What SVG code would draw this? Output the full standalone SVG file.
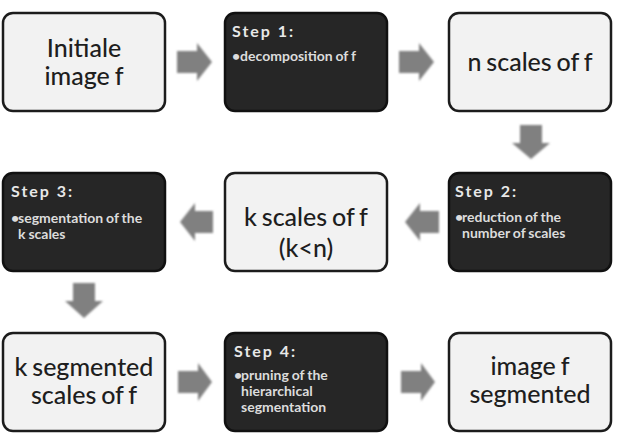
<svg xmlns="http://www.w3.org/2000/svg" width="617" height="442" viewBox="0 0 617 442">
<defs>
<style>
.light{fill:#f2f2f2;stroke:#1c1c1c;stroke-width:2.5}
.dark{fill:#262626;stroke:#111;stroke-width:2.5}
.big{font-family:Lato,"Liberation Sans",sans-serif;font-size:25px;font-weight:500;fill:#1e1e1e;text-anchor:middle;word-spacing:-1.5px}
.title{font-family:Lato,"Liberation Sans",sans-serif;font-size:16px;font-weight:bold;fill:#e8e8e8;letter-spacing:2px}
.item{font-family:Lato,"Liberation Sans",sans-serif;font-size:14px;font-weight:bold;fill:#dcdcdc;word-spacing:-0.5px}
.arrow{fill:#808080}
</style>
<filter id="soft" x="-20%" y="-20%" width="140%" height="140%"><feGaussianBlur stdDeviation="0.8"/></filter>
</defs>
<rect width="617" height="442" fill="#ffffff"/>
<g id="connectors" filter="url(#soft)">
<path class="arrow" d="M177,51 H197 V43 L212,62 L197,81 V73 H177 Z"/>
<path class="arrow" d="M399,51 H419 V43 L434,62 L419,81 V73 H399 Z"/>
<path class="arrow" d="M520,125 V143 H512 L531,159 L550,143 H542 V125 Z"/>
<path class="arrow" d="M439,211 H420 V203 L405,222 L420,241 V233 H439 Z"/>
<path class="arrow" d="M213,211 H195 V203 L180,222 L195,241 V233 H213 Z"/>
<path class="arrow" d="M73,283 V301 H65 L84,318 L103,301 H95 V283 Z"/>
<path class="arrow" d="M178,371 H198 V363 L212,382 L198,401 V393 H178 Z"/>
<path class="arrow" d="M401,371 H421 V363 L435,382 L421,401 V393 H401 Z"/>
</g>
<g id="initiale">
<rect class="light" x="3" y="13" width="162" height="98" rx="10"/>
<text class="big" x="84" y="57">Initiale</text>
<text class="big" x="84" y="85">image f</text>
</g>
<g id="step1">
<rect class="dark" x="225" y="13" width="162" height="98" rx="10"/>
<text class="title" x="232" y="37">Step 1:</text>
<text class="item" x="232" y="61">•decomposition of f</text>
</g>
<g id="nscales">
<rect class="light" x="449" y="13" width="162" height="98" rx="10"/>
<text class="big" x="530" y="71">n scales of f</text>
</g>
<g id="step2">
<rect class="dark" x="449" y="173" width="162" height="98" rx="10"/>
<text class="title" x="455" y="197">Step 2:</text>
<text class="item" x="455" y="222">•</text>
<text class="item" x="462" y="222">reduction of the</text>
<text class="item" x="462" y="238">number of scales</text>
</g>
<g id="kscales">
<rect class="light" x="225" y="173" width="162" height="98" rx="10"/>
<text class="big" x="306" y="226">k scales of f</text>
<text class="big" x="306" y="257">(k&lt;n)</text>
</g>
<g id="step3">
<rect class="dark" x="3" y="173" width="162" height="98" rx="10"/>
<text class="title" x="11" y="197">Step 3:</text>
<text class="item" x="11" y="223">•</text>
<text class="item" x="18" y="223">segmentation of the</text>
<text class="item" x="18" y="239">k scales</text>
</g>
<g id="ksegmented">
<rect class="light" x="3" y="333" width="162" height="98" rx="10"/>
<text class="big" x="84" y="376">k segmented</text>
<text class="big" x="84" y="404">scales of f</text>
</g>
<g id="step4">
<rect class="dark" x="225" y="333" width="162" height="98" rx="10"/>
<text class="title" x="234" y="357">Step 4:</text>
<text class="item" x="234" y="380">•</text>
<text class="item" x="241" y="380">pruning of the</text>
<text class="item" x="241" y="396">hierarchical</text>
<text class="item" x="241" y="412">segmentation</text>
</g>
<g id="segmented">
<rect class="light" x="449" y="333" width="162" height="98" rx="10"/>
<text class="big" x="530" y="375">image f</text>
<text class="big" x="530" y="403">segmented</text>
</g>
</svg>
